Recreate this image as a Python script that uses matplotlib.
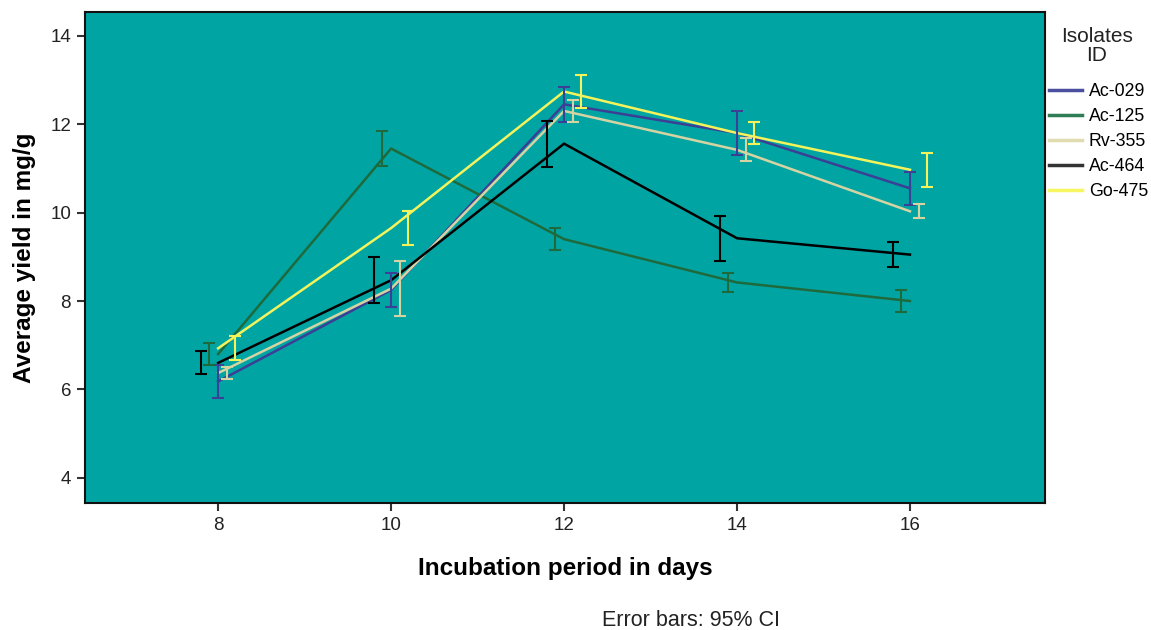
import matplotlib
matplotlib.use('Agg')
import matplotlib.pyplot as plt
import numpy as np

plt.rcParams['font.family'] = ['Liberation Sans', 'DejaVu Sans']

days = [8, 10, 12, 14, 16]
isolates = ['Ac-029', 'Ac-125', 'Rv-355', 'Ac-464', 'Go-475']

# mean yield (mg/g) and 95% CI half-widths
ac029_mean = [6.18, 8.25, 12.45, 11.80, 10.55]
ac029_ci = [0.38, 0.38, 0.40, 0.50, 0.38]
ac125_mean = [6.80, 11.45, 9.40, 8.42, 8.00]
ac125_ci = [0.25, 0.40, 0.25, 0.22, 0.25]
rv355_mean = [6.37, 8.28, 12.30, 11.42, 10.03]
rv355_ci = [0.14, 0.63, 0.25, 0.26, 0.16]
ac464_mean = [6.60, 8.47, 11.56, 9.42, 9.05]
ac464_ci = [0.26, 0.52, 0.52, 0.51, 0.29]
go475_mean = [6.93, 9.65, 12.74, 11.80, 10.97]
go475_ci = [0.27, 0.39, 0.38, 0.25, 0.38]

colors = ['#3b3f95', '#1f6a3c', '#d6d3a2', '#000000', '#f4f35c']
legend_colors = ['#4a4f9e', '#2e7d55', '#e0dcb0', '#333333', '#f7f560']
dodge = [0.0, -0.1, 0.1, -0.2, 0.2]

means = [ac029_mean, ac125_mean, rv355_mean, ac464_mean, go475_mean]
cis = [ac029_ci, ac125_ci, rv355_ci, ac464_ci, go475_ci]

fig = plt.figure(figsize=(11.51, 6.3), dpi=100)
ax = fig.add_axes([0.0738, 0.2016, 0.834, 0.7794])
ax.set_facecolor('#00a5a3')

x = np.array(days, dtype=float)
handles = []
for name, m, c, col, lcol, d in zip(isolates, means, cis, colors,
                                    legend_colors, dodge):
  ax.plot(x, m, color=col, lw=1.8, zorder=3)
  ax.errorbar(x + d, m, yerr=c, fmt='none', ecolor=col, elinewidth=1.5,
              capsize=4, capthick=1.5, zorder=4)
  h, = plt.plot([], [], color=lcol, lw=2.5, label=name)
  handles.append(h)

ax.set_xlim(6.46, 17.56)
ax.set_ylim(3.43, 14.54)
ax.set_xticks(days)
ax.set_yticks([4, 6, 8, 10, 12, 14])
ax.tick_params(direction='out', length=6, width=1.5, color='#333333',
               labelsize=13.5, pad=4, labelcolor='#222222')
for s in ax.spines.values():
  s.set_linewidth(1.5)
  s.set_color('#111111')

ax.set_xlabel('Incubation period in days', fontsize=17.5, fontweight='bold',
              labelpad=17)
ax.set_ylabel('Average yield in mg/g', fontsize=17.5, fontweight='bold',
              labelpad=10)

fig.text(1097 / 1151, 1 - 46 / 630, 'Isolates\nID', ha='center', va='center',
         fontsize=15, linespacing=0.95, color='#222222')
leg = fig.legend(handles=handles, loc='upper left',
                 bbox_to_anchor=(1049 / 1151, 1 - 83 / 630), frameon=False,
                 fontsize=12.8, handlelength=1.85, handletextpad=0.4,
                 labelspacing=0.45, borderaxespad=0.0, borderpad=0.0)

fig.text(691 / 1151, 1 - 620 / 630, 'Error bars: 95% CI', ha='center',
         va='center', fontsize=15.5, color='#222222')

plt.savefig('out.png', dpi=100)
